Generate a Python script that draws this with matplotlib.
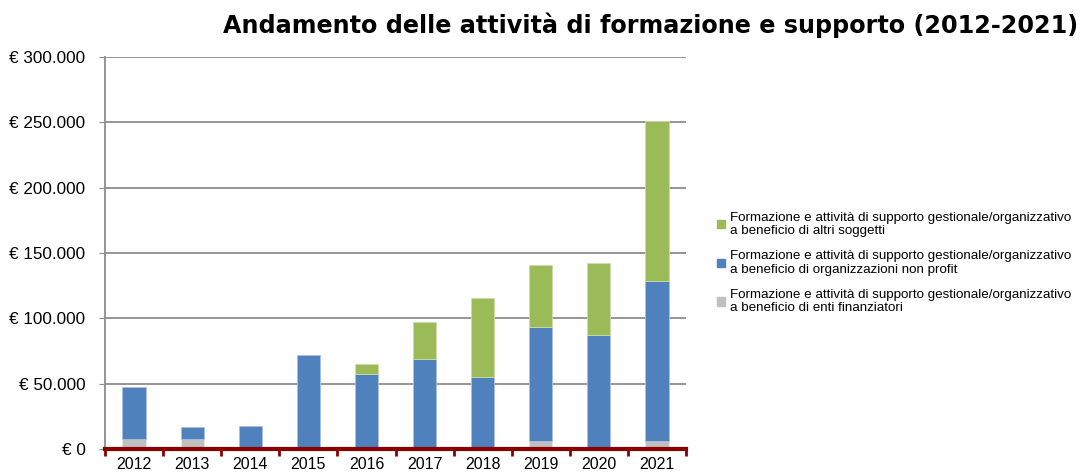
import numpy as np
import matplotlib.pyplot as plt
from matplotlib.ticker import FuncFormatter
from matplotlib.patches import Patch

# Data
years = ['2012', '2013', '2014', '2015', '2016', '2017', '2018', '2019', '2020', '2021']
enti_finanziatori = [7600, 7600, 0, 0, 0, 0, 0, 6400, 0, 6500]
non_profit = [40000, 9000, 17600, 72000, 57600, 68700, 55000, 87200, 87000, 122300]
altri_soggetti = [0, 0, 0, 0, 7400, 28300, 60600, 47000, 55200, 122200]

labels = [
    'Formazione e attività di supporto gestionale/organizzativo\na beneficio di altri soggetti',
    'Formazione e attività di supporto gestionale/organizzativo\na beneficio di organizzazioni non profit',
    'Formazione e attività di supporto gestionale/organizzativo\na beneficio di enti finanziatori',
]

GREY = '#C0C0C0'
BLUE = '#4F81BD'
GREEN = '#9BBB59'
DARKRED = '#8B0000'

plt.rcParams['font.family'] = ['Liberation Sans', 'DejaVu Sans']

fig = plt.figure(figsize=(10.88, 4.72), dpi=100)
ax = fig.add_axes([105 / 1088, 23 / 472, 581 / 1088, 392 / 472])

x = np.arange(len(years))
w = 0.4
g = np.array(enti_finanziatori)
b = np.array(non_profit)
v = np.array(altri_soggetti)


def edges(vals, col):
    # no outline on empty segments
    return [col if val > 0 else 'none' for val in vals]


ax.bar(x, g, w, color=GREY, edgecolor=edges(g, '#e8e8e8'), linewidth=0.6, zorder=3)
ax.bar(x, b, w, bottom=g, color=BLUE, edgecolor=edges(b, '#a9c0e0'), linewidth=0.6, zorder=3)
ax.bar(x, v, w, bottom=g + b, color=GREEN, edgecolor=edges(v, '#cddcaa'), linewidth=0.6, zorder=3)

ax.set_xlim(-0.5, len(years) - 0.5)
ax.set_ylim(0, 300000)
ax.set_yticks(np.arange(0, 300001, 50000))
ax.yaxis.set_major_formatter(FuncFormatter(
    lambda val, pos: '€ 0' if val == 0 else '€ ' + f'{int(val):,}'.replace(',', '.')))
ax.grid(axis='y', color='#8c8c8c', linewidth=1.3, zorder=0)
ax.tick_params(axis='y', labelsize=12.3, length=4, color='#8c8c8c', pad=10)

# x axis: labels at centres, tick marks at category boundaries
ax.set_xticks(x)
ax.set_xticklabels(years)
ax.tick_params(axis='x', which='major', length=0, labelsize=11.5, pad=6)
ax.set_xticks(np.arange(-0.5, len(years)), minor=True)
ax.tick_params(axis='x', which='minor', length=5, width=2, color=DARKRED)

for s in ['top', 'right']:
    ax.spines[s].set_visible(False)
ax.spines['left'].set_color('#8c8c8c')
ax.spines['left'].set_linewidth(1.3)
ax.spines['bottom'].set_color(DARKRED)
ax.spines['bottom'].set_linewidth(3)
ax.spines['bottom'].set_zorder(5)

fig.text(651 / 1088, 1 - 25 / 472, 'Andamento delle attività di formazione e supporto (2012-2021)',
         ha='center', va='center', fontsize=17.2, fontweight='bold', family='DejaVu Sans')

# legend
handles = [Patch(color=GREEN), Patch(color=BLUE), Patch(color=GREY)]
leg = fig.legend(handles, labels, loc='center left', bbox_to_anchor=(705 / 1088, 1 - 263 / 472),
                 frameon=False, fontsize=9.6, handlelength=0.6, handleheight=0.6,
                 handletextpad=0.35, labelspacing=1.0)
for t in leg.get_texts():
    t.set_linespacing(1.15)

plt.savefig('out.png', dpi=100)
